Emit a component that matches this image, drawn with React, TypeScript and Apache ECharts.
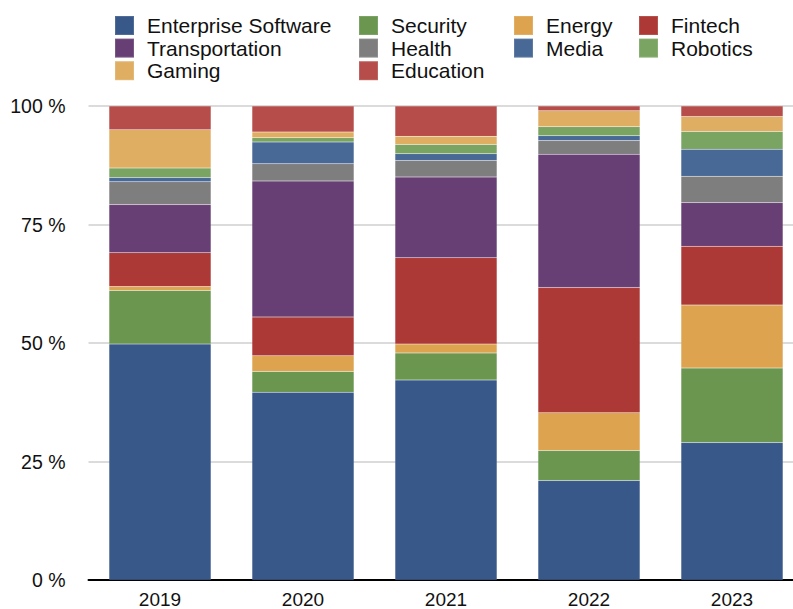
import React, { useEffect, useRef } from "react";
import * as echarts from "echarts";

const years = ["2019", "2020", "2021", "2022", "2023"];
const yTicks = [0, 25, 50, 75, 100];

const enterpriseSoftware = [49.8, 39.6, 42.2, 21.0, 29.0];
const security = [11.3, 4.4, 5.7, 6.3, 15.7];
const energy = [0.8, 3.3, 1.9, 8.0, 13.3];
const fintech = [7.15, 8.2, 18.2, 26.4, 12.4];
const transportation = [10.15, 28.7, 17.0, 28.1, 9.2];
const health = [4.8, 3.6, 3.5, 2.9, 5.6];
const media = [0.9, 4.6, 1.4, 1.0, 5.7];
const robotics = [2.0, 0.9, 2.0, 1.9, 3.7];
const gaming = [8.1, 1.2, 1.7, 3.4, 3.2];
const education = [5.0, 5.5, 6.4, 1.0, 2.2];

const seriesNames = [
  "Enterprise Software", "Security", "Energy", "Fintech",
  "Transportation", "Health", "Media", "Robotics",
  "Gaming", "Education",
];
const seriesValues = [
  enterpriseSoftware, security, energy, fintech,
  transportation, health, media, robotics,
  gaming, education,
];
const seriesColors = [
  "#39588a", "#6a9650", "#dda34f", "#ad3936",
  "#683f75", "#7e7e7e", "#486896", "#7aa462",
  "#e0ae62", "#b64d4a",
];

const legendColumns = [
  { left: 114, names: ["Enterprise Software", "Transportation", "Gaming"] },
  { left: 358, names: ["Security", "Health", "Education"] },
  { left: 513, names: ["Energy", "Media"] },
  { left: 638, names: ["Fintech", "Robotics"] },
];

export default function App() {
  const ref = useRef<HTMLDivElement>(null);
  useEffect(() => {
    if (!ref.current) return;
    const chart = echarts.init(ref.current, undefined, { renderer: "svg" });
    const font = "'Liberation Sans', Arial, Helvetica, sans-serif";
    chart.setOption({
      animation: false,
      color: seriesColors,
      legend: legendColumns.map((c) => ({
        orient: "vertical",
        left: c.left,
        top: 15,
        padding: 0,
        itemWidth: 19,
        itemHeight: 19,
        itemGap: 1.6,
        icon: "rect",
        selectedMode: false,
        data: c.names,
        textStyle: { fontSize: 21, color: "#111", fontFamily: font, padding: [0, 0, 0, 8] },
      })),
      grid: { left: 88.5, top: 106, width: 715, bottom: 27, containLabel: false },
      xAxis: {
        type: "category",
        data: years,
        axisTick: { show: false },
        axisLine: { lineStyle: { color: "#000", width: 2 } },
        axisLabel: { fontSize: 19, color: "#111", fontFamily: font, margin: 10 },
      },
      yAxis: {
        type: "value",
        min: yTicks[0],
        max: yTicks[yTicks.length - 1],
        interval: 25,
        axisLine: { show: false },
        axisTick: { show: false },
        splitLine: { lineStyle: { color: "#cfcfcf", width: 1.5 } },
        axisLabel: { formatter: "{value} %", fontSize: 19.5, color: "#111", fontFamily: font, margin: 23 },
      },
      series: seriesNames.map((name, i) => ({
        name,
        type: "bar",
        stack: "total",
        barWidth: 102,
        data: seriesValues[i],
        itemStyle: { color: seriesColors[i], borderColor: "rgba(255,255,255,0.12)", borderWidth: 0.5 },
      })),
    });
    return () => chart.dispose();
  }, []);
  return (
    <div style={{ width: 793, height: 609, position: "absolute", left: 0, top: 0, overflow: "hidden" }}>
      <div ref={ref} style={{ width: 820, height: 609 }} />
    </div>
  );
}
